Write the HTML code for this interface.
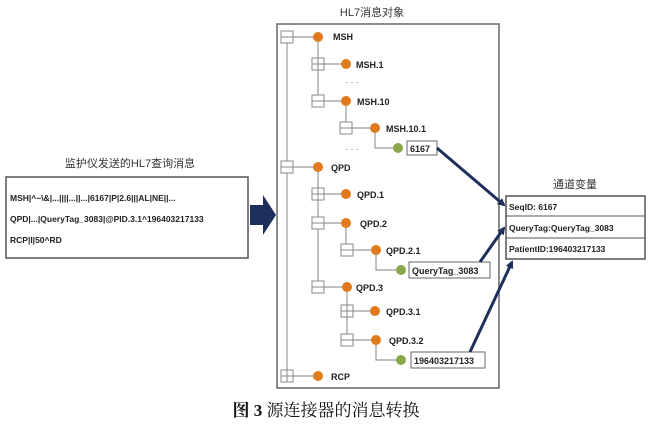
<!DOCTYPE html>
<html><head><meta charset="utf-8"><style>
body{margin:0;background:#fff;width:652px;height:429px;overflow:hidden}
</style></head><body>
<svg width="652" height="429" xmlns="http://www.w3.org/2000/svg" style="font-family:'Liberation Sans','Noto Sans CJK SC',sans-serif">
<defs><marker id="ah" markerWidth="8" markerHeight="8" refX="6" refY="4" orient="auto" markerUnits="userSpaceOnUse"><path d="M0,0 L8,4 L0,8 z" fill="#1f2f5c"/></marker></defs>
<text x="372" y="16" font-size="11" text-anchor="middle" fill="#333">HL7消息对象</text>
<rect x="277" y="24" width="222" height="364" fill="#fff" stroke="#666" stroke-width="1.5"/>
<g stroke="#999" stroke-width="1.2" fill="none">
<line x1="287" y1="37" x2="287" y2="376"/>
<line x1="318" y1="37" x2="318" y2="101"/>
<line x1="346" y1="101" x2="346" y2="128"/>
<polyline points="375,128 375,148 398,148"/>
<line x1="318" y1="167" x2="318" y2="287"/>
<line x1="346" y1="223" x2="346" y2="250"/>
<polyline points="376,250 376,270 401,270"/>
<line x1="347" y1="287" x2="347" y2="340"/>
<polyline points="376,340 376,360 401,360"/>
<line x1="287" y1="37" x2="318" y2="37"/><line x1="318" y1="64" x2="346" y2="64"/><line x1="318" y1="101" x2="346" y2="101"/><line x1="346" y1="128" x2="375" y2="128"/>
<line x1="287" y1="167" x2="318" y2="167"/><line x1="318" y1="194" x2="346" y2="194"/><line x1="318" y1="223" x2="346" y2="223"/><line x1="346" y1="250" x2="376" y2="250"/>
<line x1="318" y1="287" x2="347" y2="287"/><line x1="347" y1="311" x2="375" y2="311"/><line x1="347" y1="340" x2="376" y2="340"/><line x1="287" y1="376" x2="318" y2="376"/>
</g>
<g stroke="#888" fill="#fff" stroke-width="1">
<rect x="281" y="31" width="12" height="12"/><line x1="281" y1="37" x2="293" y2="37"/>
<rect x="312" y="58" width="12" height="12"/><line x1="312" y1="64" x2="324" y2="64"/><line x1="318" y1="58" x2="318" y2="70"/>
<rect x="312" y="95" width="12" height="12"/><line x1="312" y1="101" x2="324" y2="101"/>
<rect x="340" y="122" width="12" height="12"/><line x1="340" y1="128" x2="352" y2="128"/>
<rect x="281" y="161" width="12" height="12"/><line x1="281" y1="167" x2="293" y2="167"/>
<rect x="312" y="188" width="12" height="12"/><line x1="312" y1="194" x2="324" y2="194"/><line x1="318" y1="188" x2="318" y2="200"/>
<rect x="312" y="217" width="12" height="12"/><line x1="312" y1="223" x2="324" y2="223"/>
<rect x="341" y="244" width="12" height="12"/><line x1="341" y1="250" x2="353" y2="250"/>
<rect x="312" y="281" width="12" height="12"/><line x1="312" y1="287" x2="324" y2="287"/>
<rect x="341" y="305" width="12" height="12"/><line x1="341" y1="311" x2="353" y2="311"/><line x1="347" y1="305" x2="347" y2="317"/>
<rect x="341" y="334" width="12" height="12"/><line x1="341" y1="340" x2="353" y2="340"/>
<rect x="281" y="370" width="12" height="12"/><line x1="281" y1="376" x2="293" y2="376"/><line x1="287" y1="370" x2="287" y2="382"/>
</g>
<g fill="#e07a1c">
<circle cx="318" cy="37" r="5"/><circle cx="346" cy="64" r="5"/><circle cx="346" cy="101" r="5"/><circle cx="375" cy="128" r="5"/>
<circle cx="318" cy="167" r="5"/><circle cx="346" cy="194" r="5"/><circle cx="346" cy="223" r="5"/><circle cx="376" cy="250" r="5"/>
<circle cx="347" cy="287" r="5"/><circle cx="375" cy="311" r="5"/><circle cx="376" cy="340" r="5"/><circle cx="318" cy="376" r="5"/>
</g>
<g fill="#8aa84a"><circle cx="398" cy="148" r="5"/><circle cx="401" cy="270" r="5"/><circle cx="401" cy="360" r="5"/></g>
<g font-size="9" font-weight="bold" fill="#222">
<text x="333" y="40">MSH</text><text x="356" y="68">MSH.1</text><text x="357" y="105">MSH.10</text><text x="386" y="132">MSH.10.1</text>
<text x="331" y="171">QPD</text><text x="357" y="198">QPD.1</text><text x="360" y="227">QPD.2</text><text x="386" y="254">QPD.2.1</text>
<text x="356" y="291">QPD.3</text><text x="386" y="315">QPD.3.1</text><text x="389" y="344">QPD.3.2</text><text x="331" y="380">RCP</text>
<text x="345" y="85" font-weight="normal" fill="#777">· · ·</text><text x="345" y="152" font-weight="normal" fill="#777">· · ·</text>
</g>
<g stroke="#666" fill="#fff"><rect x="407" y="141" width="30" height="14"/><rect x="409" y="262" width="81" height="16"/><rect x="411" y="352" width="74" height="16"/></g>
<g font-size="9" font-weight="bold" fill="#222"><text x="410" y="152">6167</text><text x="412" y="274">QueryTag_3083</text><text x="414" y="364">196403217133</text></g>
<text x="130" y="167" font-size="11" text-anchor="middle" fill="#333">监护仪发送的HL7查询消息</text>
<rect x="6" y="177" width="242" height="81" fill="#fff" stroke="#555" stroke-width="1.5"/>
<g font-size="8.5" font-weight="bold" fill="#222">
<text x="10" y="201">MSH|^~\&amp;|...||||...||...|6167|P|2.6|||AL|NE||...</text>
<text x="10" y="222">QPD|...|QueryTag_3083|@PID.3.1^196403217133</text>
<text x="10" y="243">RCP|I|50^RD</text></g>
<path d="M250,205 L263,205 L263,195 L276,215 L263,235 L263,225 L250,225 z" fill="#1f2f5c"/>
<text x="575" y="188" font-size="11" text-anchor="middle" fill="#333">通道变量</text>
<rect x="506" y="196" width="139" height="63" fill="#fff" stroke="#555" stroke-width="1.5"/>
<line x1="506" y1="216" x2="645" y2="216" stroke="#555"/><line x1="506" y1="238" x2="645" y2="238" stroke="#555"/>
<g font-size="8.5" font-weight="bold" fill="#222"><text x="509" y="210">SeqID: 6167</text><text x="509" y="231">QueryTag:QueryTag_3083</text><text x="509" y="252">PatientID:196403217133</text></g>
<g stroke="#1f2f5c" stroke-width="3" marker-end="url(#ah)">
<line x1="437" y1="148" x2="504" y2="205"/><line x1="480" y1="262" x2="504" y2="228"/><line x1="470" y1="352" x2="512" y2="262"/>
</g>
<text x="326" y="416" font-size="17" text-anchor="middle" fill="#111" font-family="'Liberation Serif','Noto Serif CJK SC',serif"><tspan font-weight="bold">图 3</tspan>  源连接器的消息转换</text>
</svg>
</body></html>
